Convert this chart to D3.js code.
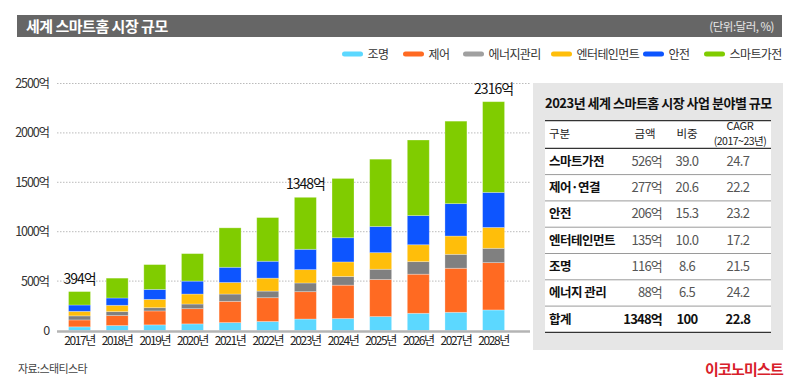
<!DOCTYPE html>
<html><head><meta charset="utf-8">
<script src="https://cdn.jsdelivr.net/npm/d3@7"></script>
<style>
body{margin:0;background:#fff;}
svg{display:block;font-family:"Noto Sans CJK KR","Noto Sans",sans-serif;}
</style></head>
<body><svg id="c" width="800" height="386"></svg>
<script>
const years = ["2017","2018","2019","2020","2021","2022","2023","2024","2025","2026","2027","2028"];
const seriesNames = ["조명","제어","에너지관리","엔터테인먼트","안전","스마트가전"];
const lighting      = [37,50,57,67,80,91,116,121,141,174,184,208];
const control       = [70,101,141,154,215,241,277,338,375,396,446,479];
const energy        = [41,40,33,47,74,67,88,88,104,127,141,145];
const entertainment = [46,64,84,101,117,131,135,147,168,171,185,211];
const security      = [64,74,101,131,154,171,206,245,265,295,328,355];
const smartApp      = [136,201,251,278,399,442,526,600,681,765,835,918];
const yTicks = [0,500,1000,1500,2000,2500];
const totalLabels = [{year:"2017",text:"394억"},{year:"2023",text:"1348억"},{year:"2028",text:"2316억"}];
const tableHeader = ["구분","금액","비중","CAGR","(2017~23년)"];
const tableRows = [
  ["스마트가전","526억","39.0","24.7"],
  ["제어·연결","277억","20.6","22.2"],
  ["안전","206억","15.3","23.2"],
  ["엔터테인먼트","135억","10.0","17.2"],
  ["조명","116억","8.6","21.5"],
  ["에너지 관리","88억","6.5","24.2"],
  ["합계","1348억","100","22.8"]
];

const colors = ["#5cd8ff","#ff6a22","#808080","#ffbe0a","#0d55ff","#80cc00"];
const legendColors = ["#5cd8ff","#ff6a22","#a0a0a0","#ffbe0a","#0d55ff","#80cc00"];
const seriesArrays = [lighting,control,energy,entertainment,security,smartApp];

const svg = d3.select("#c");

// title bar
svg.append("rect").attr("x",17).attr("y",15).attr("width",765).attr("height",22).attr("fill","#666");
svg.append("text").attr("x",26).attr("y",32).attr("fill","#fff").attr("font-size",15).attr("font-weight",700)
  .attr("letter-spacing",-0.5).text("세계 스마트홈 시장 규모");
svg.append("text").attr("x",774).attr("y",31).attr("text-anchor","end").attr("fill","#e6e6e6").attr("font-size",11.5)
  .attr("letter-spacing",-0.5).text("(단위:달러, %)");

// legend
const legendX = [342,403,463,551,643,704];
seriesNames.forEach((n,i)=>{
  svg.append("rect").attr("x",legendX[i]).attr("y",51.5).attr("width",21).attr("height",5).attr("rx",2.5).attr("fill",legendColors[i]);
  svg.append("text").attr("x",legendX[i]+25.5).attr("y",58.5).attr("font-size",12).attr("fill","#333")
    .attr("letter-spacing",-0.6).text(n);
});

// scales
const y = d3.scaleLinear().domain([0,2500]).range([330.5,83.5]);
const x = d3.scaleBand().domain(years).range([60.7,512.4]).paddingInner(0.416).paddingOuter(0.208);

// grid
svg.append("g").selectAll("line").data(yTicks.filter(d=>d>0)).join("line")
  .attr("x1",57).attr("x2",530).attr("y1",d=>y(d)).attr("y2",d=>y(d))
  .attr("stroke","#aaa").attr("stroke-width",0.8).attr("stroke-dasharray","1.5,1.5");

// y axis
const ya = svg.append("g").attr("transform","translate(52,0)")
  .call(d3.axisLeft(y).tickValues(yTicks).tickSize(0).tickFormat(d=>d===0?"0":d+"억"));
ya.select(".domain").remove();
ya.selectAll("text").attr("font-size",12.5).attr("fill","#333").attr("letter-spacing",-1.1)
  .attr("font-family","'Noto Sans CJK KR',sans-serif");

// stacked bars
const data = years.map((yr,i)=>{const o={year:yr}; seriesNames.forEach((n,k)=>o[n]=seriesArrays[k][i]); return o;});
const stacked = d3.stack().keys(seriesNames)(data);
svg.append("g").selectAll("g").data(stacked).join("g").attr("fill",(d,i)=>colors[i])
  .selectAll("rect").data(d=>d).join("rect")
  .attr("x",d=>x(d.data.year)).attr("width",x.bandwidth())
  .attr("y",d=>y(d[1])).attr("height",d=>y(d[0])-y(d[1]))
  .attr("stroke","#fff").attr("stroke-opacity",0.35).attr("stroke-width",0.8);

// baseline
svg.append("line").attr("x1",57).attr("x2",530).attr("y1",y(0)+1).attr("y2",y(0)+1).attr("stroke","#b4b4b4").attr("stroke-width",2.5);

// x axis
const xa = svg.append("g").attr("transform",`translate(0,${y(0)+3})`)
  .call(d3.axisBottom(x).tickSize(0).tickFormat(d=>d+"년"));
xa.select(".domain").remove();
xa.selectAll("text").attr("font-size",12).attr("fill","#222").attr("letter-spacing",-1.4)
  .attr("font-family","'Noto Sans CJK KR',sans-serif");

// total labels
const totals = years.map((yr,i)=>d3.sum(seriesArrays,a=>a[i]));
totalLabels.forEach(t=>{
  const i = years.indexOf(t.year);
  svg.append("text").attr("x",x(t.year)+x.bandwidth()/2).attr("y",y(totals[i])-8)
    .attr("text-anchor","middle").attr("font-size",14).attr("fill","#111").attr("letter-spacing",-1).text(t.text);
});

// table panel
svg.append("rect").attr("x",533).attr("y",83).attr("width",250).attr("height",267).attr("fill","#e6e6e6");
svg.append("rect").attr("x",545).attr("y",121).attr("width",226).attr("height",211).attr("fill","#fff");
svg.append("text").attr("x",545).attr("y",108).attr("font-size",13).attr("font-weight",700).attr("fill","#111")
  .attr("letter-spacing",-0.5).text("2023년 세계 스마트홈 시장 사업 분야별 규모");

const tx0 = 545, tx1 = 771;
const headTop = 120.7, headBot = 148.3, rowH = 26.3;
// header
svg.append("text").attr("x",549).attr("y",138).attr("font-size",11.5).attr("fill","#222").text(tableHeader[0]);
svg.append("text").attr("x",645).attr("y",138).attr("text-anchor","middle").attr("font-size",11.5).attr("fill","#222").text(tableHeader[1]);
svg.append("text").attr("x",687).attr("y",138).attr("text-anchor","middle").attr("font-size",11.5).attr("fill","#222").text(tableHeader[2]);
svg.append("text").attr("x",740).attr("y",130).attr("text-anchor","middle").attr("font-size",11).attr("fill","#222").attr("letter-spacing",-0.3).text(tableHeader[3]);
svg.append("text").attr("x",740).attr("y",145).attr("text-anchor","middle").attr("font-size",10.5).attr("fill","#222").attr("letter-spacing",-0.5).text(tableHeader[4]);

tableRows.forEach((r,i)=>{
  const base = headBot + rowH*i + 17.5;
  const last = i===tableRows.length-1;
  svg.append("text").attr("x",549).attr("y",base).attr("font-size",12.5).attr("font-weight",700).attr("fill","#111")
    .attr("letter-spacing",-0.5).text(r[0]);
  svg.append("text").attr("x",662).attr("y",base).attr("text-anchor","end").attr("font-size",13).attr("fill",last?"#111":"#555")
    .attr("font-weight",last?700:400).attr("letter-spacing",-0.8).text(r[1]);
  svg.append("text").attr("x",687).attr("y",base).attr("text-anchor","middle").attr("font-size",13).attr("fill",last?"#111":"#555")
    .attr("font-weight",last?700:400).attr("letter-spacing",-0.6).text(r[2]);
  svg.append("text").attr("x",738).attr("y",base).attr("text-anchor","middle").attr("font-size",13).attr("fill",last?"#111":"#555")
    .attr("font-weight",last?700:400).attr("letter-spacing",-0.6).text(r[3]);
  if(!last){
    svg.append("line").attr("x1",tx0).attr("x2",tx1).attr("y1",headBot+rowH*(i+1)).attr("y2",headBot+rowH*(i+1))
      .attr("stroke","#9a9a9a").attr("stroke-width",1);
  }
});
[headTop, headBot, headBot+rowH*tableRows.length].forEach(yy=>{
  svg.append("line").attr("x1",tx0).attr("x2",tx1).attr("y1",yy).attr("y2",yy).attr("stroke","#333").attr("stroke-width",1.3);
});

// footer
svg.append("text").attr("x",18).attr("y",373).attr("font-size",11).attr("fill","#444").attr("letter-spacing",-0.6).text("자료:스태티스타");
svg.append("text").attr("x",783).attr("y",375).attr("text-anchor","end").attr("font-size",15).attr("font-weight",700)
  .attr("fill","#d8202a").attr("letter-spacing",-0.8).text("이코노미스트");
</script></body></html>
